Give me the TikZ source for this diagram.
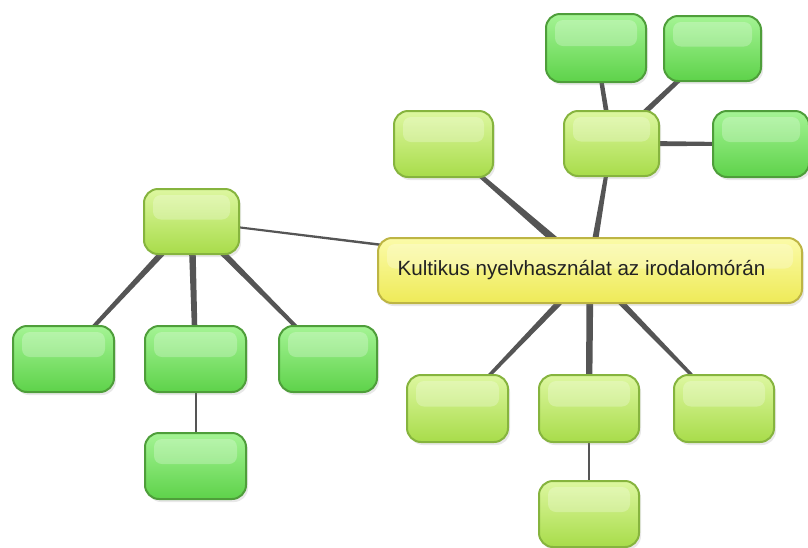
\documentclass[tikz,border=0pt]{standalone}
\usepackage{fontspec}
\setmainfont{Liberation Sans}
\usetikzlibrary{calc,shadows,backgrounds}
\definecolor{limetop}{HTML}{DDF7A0}
\definecolor{limebot}{HTML}{A8DC4A}
\definecolor{limeedge}{HTML}{86B43E}
\definecolor{greentop}{HTML}{A4F494}
\definecolor{greenbot}{HTML}{5ED24A}
\definecolor{greenedge}{HTML}{4E9E3A}
\definecolor{yeltop}{HTML}{FBFBA8}
\definecolor{yelbot}{HTML}{EEEA58}
\definecolor{yeledge}{HTML}{BDB544}
\definecolor{conncol}{HTML}{555555}
\tikzset{
  boxbase/.style={rounded corners=14pt, line width=2pt, inner sep=0pt,
    drop shadow={opacity=0.18, shadow xshift=2pt, shadow yshift=-3pt},
    path picture={
      \fill[white, opacity=0.25, rounded corners=8pt]
        ([xshift=9pt,yshift=-6pt]path picture bounding box.north west) rectangle
        ([xshift=-9pt,yshift=2pt]path picture bounding box.east);
    }},
  limebox/.style={boxbase, draw=limeedge, top color=limetop, bottom color=limebot},
  greenbox/.style={boxbase, draw=greenedge, top color=greentop, bottom color=greenbot},
  yelbox/.style={boxbase, draw=yeledge, top color=yeltop, bottom color=yelbot},
  conn/.style={fill=conncol},
}
\newcommand\taper[4]{\fill[conn] ($(#1)!#3!90:(#2)$) -- ($(#1)!#3!-90:(#2)$) -- ($(#2)!#4!90:(#1)$) -- ($(#2)!#4!-90:(#1)$) -- cycle;}
\begin{document}
\begin{tikzpicture}[x=1pt,y=-1pt]
\useasboundingbox (0,0) rectangle (808,547);
% central
\node[yelbox, minimum width=424pt, minimum height=65pt] (c) at (590,270.5)
  {\fontsize{20.6}{24}\selectfont\color[HTML]{222222}Kultikus nyelvhasználat az irodalomórán\hspace*{17pt}};
% left group
\node[limebox, minimum width=95pt, minimum height=65pt] (lh) at (191.5,221.5) {};
\node[greenbox, minimum width=101pt, minimum height=66pt] (l1) at (63.5,359) {};
\node[greenbox, minimum width=101pt, minimum height=66pt] (l2) at (195.5,359) {};
\node[greenbox, minimum width=98pt, minimum height=66pt] (l3) at (328,359) {};
\node[greenbox, minimum width=101pt, minimum height=66pt] (l4) at (195.5,466) {};
% top group
\node[limebox, minimum width=99pt, minimum height=66pt] (tl) at (443.5,144) {};
\node[limebox, minimum width=95pt, minimum height=65pt] (th) at (611.5,143.5) {};
\node[greenbox, minimum width=100pt, minimum height=68pt] (t1) at (596,48) {};
\node[greenbox, minimum width=97pt, minimum height=65pt] (t2) at (712.5,48.5) {};
\node[greenbox, minimum width=96pt, minimum height=66pt] (t3) at (761,144) {};
% bottom group
\node[limebox, minimum width=101pt, minimum height=67pt] (b1) at (457.5,408.5) {};
\node[limebox, minimum width=100pt, minimum height=67pt] (b2) at (589,408.5) {};
\node[limebox, minimum width=100pt, minimum height=67pt] (b3) at (724,408.5) {};
\node[limebox, minimum width=100pt, minimum height=66pt] (b4) at (589,514) {};
\begin{scope}[on background layer]
  \taper{c}{lh}{1.5pt}{1pt}
  \taper{lh}{l1}{3.5pt}{1.5pt}
  \taper{lh}{l2}{3.5pt}{2.5pt}
  \taper{lh}{l3}{3.5pt}{1.5pt}
  \taper{l2}{l4}{1pt}{1pt}
  \taper{c}{tl}{4.5pt}{1.5pt}
  \taper{c}{th}{3.5pt}{1.5pt}
  \taper{th}{t1}{2.5pt}{2pt}
  \taper{th}{t2}{3pt}{2pt}
  \taper{th}{t3}{3pt}{1.5pt}
  \taper{c}{b1}{3.5pt}{1.2pt}
  \taper{c}{b2}{3.5pt}{3pt}
  \taper{c}{b3}{3.5pt}{1.2pt}
  \taper{b2}{b4}{1pt}{1pt}
\end{scope}
\end{tikzpicture}
\end{document}
